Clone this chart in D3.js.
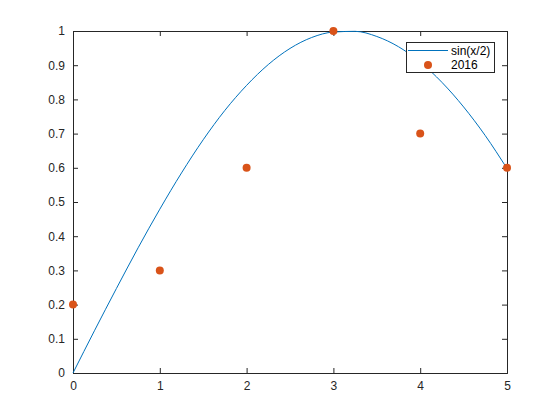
<!DOCTYPE html>
<html>
<head>
<meta charset="utf-8">
<script src="https://cdn.jsdelivr.net/npm/d3@7"></script>
<style>
body{margin:0;background:#fff;}
text{font-family:"Liberation Sans",Arial,sans-serif;}
</style>
</head>
<body>
<script>
// values
var lineX=[0,0.25,0.5,0.75,1,1.25,1.5,1.75,2,2.25,2.5,2.75,3,3.25,3.5,3.75,4,4.25,4.5,4.75,5]
var lineY=[0,0.125,0.247,0.366,0.479,0.585,0.682,0.768,0.841,0.902,0.949,0.981,0.997,0.999,0.984,0.954,0.909,0.85,0.778,0.694,0.598]
var ptX=[0,1,2,3,4,5]
var ptY=[0.2,0.3,0.6,1,0.7,0.6]
var xTicks=[0,1,2,3,4,5]
var yTicks=[0,0.1,0.2,0.3,0.4,0.5,0.6,0.7,0.8,0.9,1]
var legendNames=["sin(x/2)","2016"]

var W=560,H=420
var mLeft=73,mRight=507,mTop=31,mBottom=373

var svg=d3.select("body").append("svg").attr("width",W).attr("height",H)

var x=d3.scaleLinear().domain([0,5]).range([mLeft,mRight])
var y=d3.scaleLinear().domain([0,1]).range([mBottom,mTop])

svg.append("rect").attr("x",mLeft).attr("y",mTop).attr("width",mRight-mLeft).attr("height",mBottom-mTop)
  .attr("fill","#fff")

svg.append("g").attr("transform","translate(0,"+mBottom+")")
  .call(d3.axisBottom(x).tickValues(xTicks).tickSize(-5).tickPadding(8).tickFormat(d3.format("d")))
svg.append("g").attr("transform","translate(0,"+mTop+")")
  .call(d3.axisTop(x).tickValues(xTicks).tickSize(-5).tickFormat(""))
svg.append("g").attr("transform","translate("+mLeft+",0)")
  .call(d3.axisLeft(y).tickValues(yTicks).tickSize(-5).tickPadding(8).tickFormat(function(d){return String(+d.toFixed(1))}))
svg.append("g").attr("transform","translate("+mRight+",0)")
  .call(d3.axisRight(y).tickValues(yTicks).tickSize(-5).tickFormat(""))

svg.selectAll(".domain").attr("stroke","#262626").attr("stroke-width",1)
svg.selectAll(".tick line").attr("stroke","#262626")
svg.selectAll(".tick text").attr("fill","#262626").style("font-size","12px")
  .style("font-family","'Liberation Sans',Arial,sans-serif")

var lineData=lineX.map(function(d,i){return {x:d,y:lineY[i]}})
var line=d3.line().x(function(d){return x(d.x)}).y(function(d){return y(d.y)}).curve(d3.curveMonotoneX)
svg.append("path").datum(lineData).attr("d",line)
  .attr("fill","none").attr("stroke","#0072BD").attr("stroke-width",1)

svg.selectAll(".pt").data(ptX).enter().append("circle").attr("class","pt")
  .attr("cx",function(d){return x(d)}).attr("cy",function(d,i){return y(ptY[i])})
  .attr("r",4).attr("fill","#D95319")

// legend
var lg=svg.append("g")
lg.append("rect").attr("x",406.5).attr("y",42.5).attr("width",88).attr("height",30)
  .attr("fill","#fff").attr("stroke","#262626").attr("stroke-width",1)
lg.append("line").attr("x1",408).attr("x2",448).attr("y1",50.5).attr("y2",50.5)
  .attr("stroke","#0072BD").attr("stroke-width",1)
lg.append("circle").attr("cx",428).attr("cy",65).attr("r",4).attr("fill","#D95319")
lg.selectAll("text").data(legendNames).enter().append("text")
  .attr("x",451).attr("y",function(d,i){return 55+i*14})
  .style("font-size","12px").attr("fill","#000").text(function(d){return d})
</script>
</body>
</html>
